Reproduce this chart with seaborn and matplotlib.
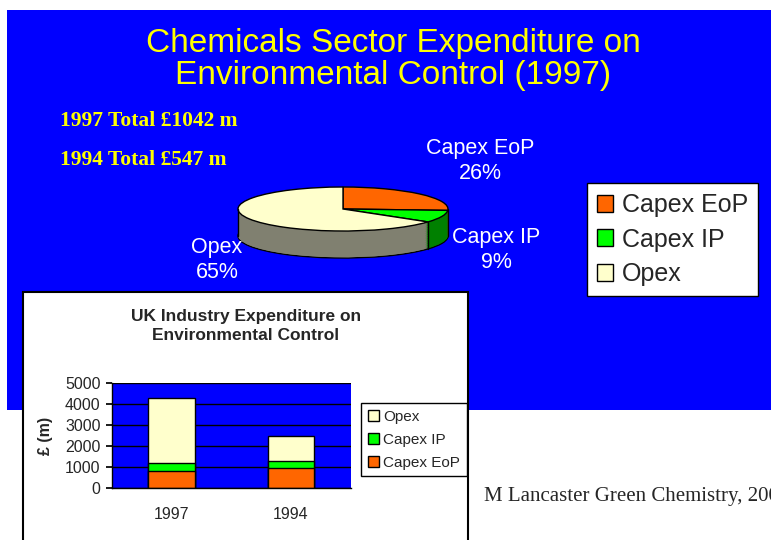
import numpy as np
import pandas as pd
import matplotlib.pyplot as plt
import seaborn as sns
from matplotlib.patches import Rectangle, Patch

# pie data (1997 chemicals sector)
pie_labels = ["Capex EoP", "Capex IP", "Opex"]
pie_shares = [26, 9, 65]
totals_text = ["1997 Total £1042 m", "1994 Total £547 m"]

# bar data (UK industry, £ m)
years = ["1997", "1994"]
capex_eop = [810, 950]
capex_ip = [380, 320]
opex = [3090, 1220]

ORANGE = "#FF6600"
GREEN = "#00FF00"
CREAM = "#FFFFCC"
BLUE = "#0000FF"
YELLOW = "#FFFF00"

sns.set_theme(style="white")
plt.rcParams['font.family'] = ['Liberation Sans', 'DejaVu Sans']

W, H = 771, 540


def fx(px):
    return px / W


def fy(py):
    return 1 - py / H


fig = plt.figure(figsize=(7.71, 5.4), dpi=100)
fig.patch.set_facecolor("white")

# blue slide background
fig.add_artist(Rectangle((fx(7), fy(410)), 1 - fx(7), fy(9.5) - fy(410),
                         transform=fig.transFigure, facecolor=BLUE,
                         edgecolor="none", zorder=-1))

fig.text(fx(393), fy(52), "Chemicals Sector Expenditure on", color=YELLOW,
         fontsize=24, ha="center", va="baseline")
fig.text(fx(393), fy(84), "Environmental Control (1997)", color=YELLOW,
         fontsize=24, ha="center", va="baseline")

for i, t in enumerate(totals_text):
    fig.text(fx(60), fy(121 + 39 * i), t, color=YELLOW, fontsize=15.5,
             fontweight="bold", family=["Liberation Serif"], ha="left", va="center")

# ---- pseudo 3D pie ----
ax_p = fig.add_axes([fx(220), fy(270), fx(470) - fx(220), fy(175) - fy(270)])
ax_p.set_zorder(1)
cx, cy, rx, ry = 343, 209, 105, 22
depth = 27 / ry
top_colors = [ORANGE, GREEN, CREAM]
side_colors = ["#993300", "#008000", "#808070"]
pie_kw = dict(startangle=90, counterclock=False)

ax_p.pie(pie_shares, colors=side_colors, center=(0, -depth),
         wedgeprops=dict(edgecolor="black", linewidth=1), **pie_kw)
for c in np.linspace(-depth, 0, 40)[1:-1]:
    ax_p.pie(pie_shares, colors=side_colors, center=(0, c),
             wedgeprops=dict(edgecolor="none", linewidth=0), **pie_kw)
ax_p.pie(pie_shares, colors=top_colors, center=(0, 0),
         wedgeprops=dict(edgecolor="black", linewidth=1), **pie_kw)

# side edges
ang = np.deg2rad(90 - 3.6 * np.cumsum(pie_shares)[1])
for x0, y0 in [(-1, 0), (1, 0), (np.cos(ang), np.sin(ang))]:
    ax_p.plot([x0, x0], [y0, y0 - depth], color="black", lw=1)

ax_p.set_aspect("auto")
ax_p.set_xlim((220 - cx) / rx, (470 - cx) / rx)
ax_p.set_ylim(-(270 - cy) / ry, (cy - 175) / ry)
ax_p.axis("off")

label_pos = [(480, 161), (496, 250), (217, 260)]
for (px, py), name, share in zip(label_pos, pie_labels, pie_shares):
    fig.text(fx(px), fy(py), f"{name}\n{share}%", color="white", fontsize=15.5,
             ha="center", va="center", linespacing=1.3)

fig.legend(handles=[Patch(facecolor=c, edgecolor="black", label=l)
                    for c, l in zip(top_colors, pie_labels)],
           loc="upper left", bbox_to_anchor=(fx(587), fy(183)), fontsize=18,
           frameon=True, fancybox=False, framealpha=1, edgecolor="black",
           handlelength=0.65, handleheight=0.65, handletextpad=0.35,
           labelspacing=0.42, borderpad=0.4, borderaxespad=0)

# ---- inset bar chart ----
fig.add_artist(Rectangle((fx(23), fy(545)), fx(468) - fx(23), fy(292) - fy(545),
                         transform=fig.transFigure, facecolor="white",
                         edgecolor="black", linewidth=1.5, zorder=2))

fig.text(fx(246), fy(326), "UK Industry Expenditure on\nEnvironmental Control",
         fontsize=12.5, fontweight="bold", ha="center", va="center",
         linespacing=1.4, zorder=3)

df = pd.DataFrame({"year": years, "eop": capex_eop, "ip": capex_ip, "opex": opex})
df["ip_top"] = df["eop"] + df["ip"]
df["opex_top"] = df["ip_top"] + df["opex"]

ax_b = fig.add_axes([fx(111.7), fy(488), fx(350.7) - fx(111.7), fy(383.3) - fy(488)])
ax_b.set_zorder(3)
ax_b.set_facecolor(BLUE)
for col, color in [("opex_top", CREAM), ("ip_top", GREEN), ("eop", ORANGE)]:
    sns.barplot(data=df, x="year", y=col, order=years, color=color, saturation=1,
                edgecolor="black", linewidth=1, width=0.39, ax=ax_b)

ax_b.set_xlim(-0.5, 1.5)
ax_b.set_ylim(0, 5000)
ax_b.set_yticks(range(0, 5001, 1000))
ax_b.yaxis.grid(True, color="black", lw=1)
ax_b.set_axisbelow(True)
for s in ["top", "right"]:
    ax_b.spines[s].set_visible(False)
for s in ["left", "bottom"]:
    ax_b.spines[s].set_color("black")
    ax_b.spines[s].set_linewidth(1)
ax_b.set_xticks([-0.5, 0.5, 1.5], minor=True)
ax_b.tick_params(axis="x", which="major", length=0, pad=14, labelsize=11.5)
ax_b.tick_params(axis="x", which="minor", length=4, direction="out", color="black")
ax_b.tick_params(axis="y", length=4, direction="out", color="black", pad=4,
                 labelsize=11.5, left=True)
ax_b.set_xlabel("")
ax_b.set_ylabel("£ (m)", fontsize=11.5, fontweight="bold")
ax_b.yaxis.set_label_coords((53 - 111.7) / 239, 0.5)

leg_b = ax_b.legend(handles=[Patch(facecolor=c, edgecolor="black", label=l)
                             for c, l in [(CREAM, "Opex"), (GREEN, "Capex IP"),
                                          (ORANGE, "Capex EoP")]],
                    loc="upper left", bbox_to_anchor=(fx(361), fy(403)),
                    bbox_transform=fig.transFigure, fontsize=11, frameon=True,
                    fancybox=False, framealpha=1, edgecolor="black",
                    handlelength=0.7, handleheight=0.7, handletextpad=0.3,
                    labelspacing=0.58, borderpad=0.45, borderaxespad=0)

fig.text(fx(484), fy(497), "M Lancaster Green Chemistry, 2002", fontsize=15,
         family=["Liberation Serif"], ha="left", va="center", zorder=3)

fig.savefig("out.png", dpi=100)
